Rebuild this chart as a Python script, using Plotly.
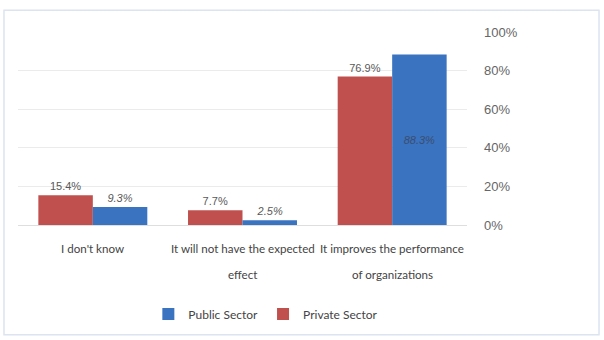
import plotly.graph_objects as go

# Survey responses by sector (share of respondents, %)
categories = ["I don't know", "It will not have the expected effect",
              "It improves the performance of organizations"]
cat_lines = [("I don't know", ""),
             ("It will not have the expected", "effect"),
             ("It improves the performance", "of organizations")]
private_sector = [15.4, 7.7, 76.9]
public_sector = [9.3, 2.5, 88.3]
y_ticks = [0, 20, 40, 60, 80, 100]

RED = "#C0504D"
BLUE = "#3A73C0"
GRAY = "#595959"

fig = go.Figure()
fig.add_trace(go.Bar(
    x=categories, y=private_sector, name="Private Sector",
    marker=dict(color=RED, line=dict(width=0)),
    text=[f"{v:.1f}%" for v in private_sector], textposition="outside",
    textfont=dict(family="Liberation Sans", size=11, color=GRAY),
    cliponaxis=False,
))
fig.add_trace(go.Bar(
    x=categories, y=public_sector, name="Public Sector",
    marker=dict(color=BLUE, line=dict(width=0)),
    text=[f"{v:.1f}%" for v in public_sector],
    textposition=["outside", "outside", "inside"],
    insidetextanchor="middle",
    outsidetextfont=dict(family="Liberation Sans", size=11, color=GRAY, style="italic"),
    insidetextfont=dict(family="Liberation Sans", size=11, color="#3B4E70", style="italic"),
    cliponaxis=False,
))

# Two-line category labels below the axis
annotations = []
for cat, (l1, l2) in zip(categories, cat_lines):
    for txt, yy in ((l1, -0.123), (l2, -0.256)):
        if txt:
            annotations.append(dict(
                x=cat, y=yy, xref="x", yref="paper", text=txt, showarrow=False,
                xanchor="center", yanchor="middle",
                font=dict(family="Lato", size=11.6, color="#444444")))

fig.update_layout(
    width=604, height=340,
    margin=dict(l=18, r=137, t=32, b=113),
    paper_bgcolor="white", plot_bgcolor="white",
    barmode="group", bargap=0.272, bargroupgap=0,
    showlegend=True,
    legend=dict(orientation="h", x=0.552, y=-0.4615, xanchor="center",
                yanchor="middle", traceorder="reversed",
                font=dict(family="Lato", size=12, color="#444444"),
                itemwidth=30),
    annotations=annotations,
    shapes=[dict(type="rect", xref="paper", yref="paper",
                 x0=-0.0312, x1=1.294, y0=-0.569, y1=1.1128,
                 line=dict(color="#DCE4F0", width=1.5), layer="below")],
    xaxis=dict(showticklabels=False, showline=False, ticks="", showgrid=False),
    yaxis=dict(side="right", range=[0, 100], tickvals=y_ticks,
               ticktext=[f"{v}%" for v in y_ticks],
               showgrid=True, gridcolor="#EBEBEB", gridwidth=1,
               zeroline=True, zerolinecolor="#DEDEDE", zerolinewidth=1,
               showline=False, ticks="", ticklabelstandoff=16,
               tickfont=dict(family="Liberation Sans", size=13, color="#666666")),
)

fig.write_html("out.html")
